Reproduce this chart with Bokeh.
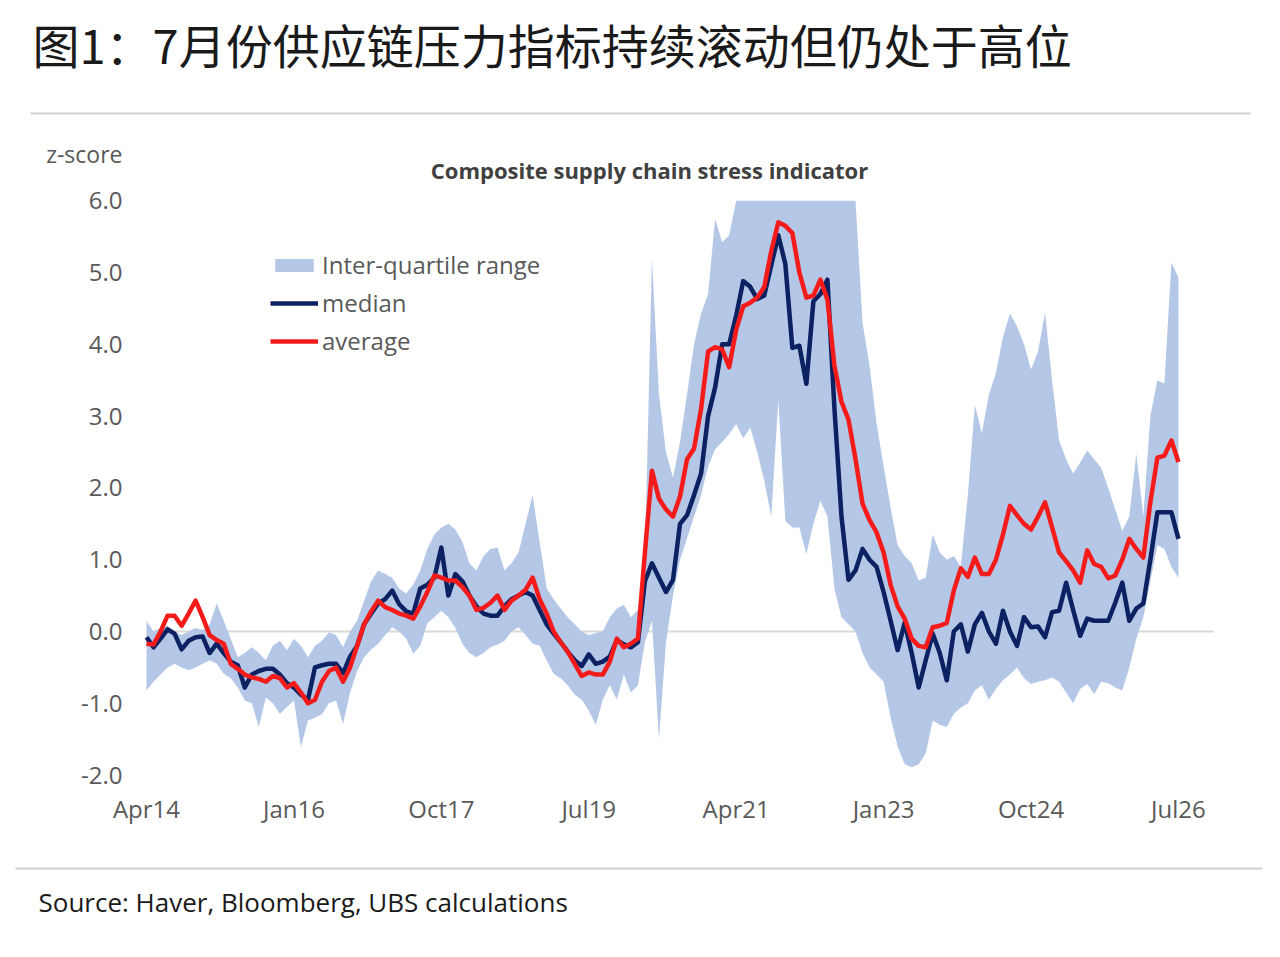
from bokeh.plotting import figure
from bokeh.layouts import column
from bokeh.models import Range1d, FixedTicker, Legend, LegendItem
from bokeh.core.properties import value
from bokeh.embed import file_html
from bokeh.resources import INLINE

# ---------------- data (monthly, Apr 2014 .. Jul 2026) ----------------
median = [
    -0.08, -0.22, -0.10, 0.03, -0.03, -0.25, -0.13, -0.08, -0.07, -0.30,
    -0.17, -0.30, -0.42, -0.47, -0.78, -0.60, -0.55, -0.52, -0.52, -0.60,
    -0.72, -0.78, -0.88, -0.95, -0.50, -0.47, -0.45, -0.45, -0.58, -0.35,
    -0.20, 0.10, 0.25, 0.39, 0.45, 0.57, 0.38, 0.28, 0.25, 0.60,
    0.65, 0.75, 1.17, 0.50, 0.80, 0.70, 0.50, 0.35, 0.25, 0.22,
    0.22, 0.35, 0.45, 0.50, 0.55, 0.50, 0.30, 0.10, -0.03, -0.15,
    -0.28, -0.40, -0.48, -0.32, -0.45, -0.42, -0.35, -0.12, -0.18, -0.22,
    -0.15, 0.70, 0.95, 0.75, 0.55, 0.72, 1.50, 1.62, 1.90, 2.20,
    3.00, 3.40, 4.00, 4.00, 4.40, 4.88, 4.80, 4.63, 4.68, 5.10,
    5.52, 5.12, 3.95, 3.98, 3.45, 4.60, 4.70, 4.90, 3.10, 1.60,
    0.72, 0.85, 1.15, 1.00, 0.90, 0.55, 0.15, -0.26, 0.12, -0.30,
    -0.78, -0.40, -0.03, -0.30, -0.68, 0.00, 0.10, -0.28, 0.10, 0.26,
    0.00, -0.17, 0.29, 0.00, -0.20, 0.20, 0.06, 0.07, -0.08, 0.27,
    0.29, 0.68, 0.30, -0.06, 0.18, 0.15, 0.15, 0.15, 0.40, 0.68,
    0.15, 0.32, 0.39, 1.00, 1.66, 1.66, 1.66, 1.29,
]
average = [
    -0.17, -0.18, 0.00, 0.22, 0.22, 0.08, 0.25, 0.43, 0.20, -0.05,
    -0.12, -0.17, -0.45, -0.52, -0.60, -0.64, -0.66, -0.70, -0.62, -0.65,
    -0.78, -0.72, -0.85, -1.00, -0.95, -0.70, -0.55, -0.50, -0.70, -0.50,
    -0.20, 0.10, 0.28, 0.43, 0.34, 0.30, 0.25, 0.22, 0.18, 0.35,
    0.55, 0.78, 0.75, 0.71, 0.71, 0.62, 0.50, 0.30, 0.33, 0.40,
    0.50, 0.30, 0.43, 0.50, 0.58, 0.75, 0.45, 0.25, 0.00, -0.15,
    -0.28, -0.45, -0.62, -0.57, -0.60, -0.60, -0.42, -0.10, -0.22, -0.17,
    -0.10, 1.10, 2.24, 1.85, 1.70, 1.60, 1.88, 2.40, 2.55, 3.10,
    3.90, 3.96, 3.93, 3.68, 4.20, 4.53, 4.58, 4.65, 4.80, 5.30,
    5.70, 5.65, 5.55, 5.00, 4.65, 4.68, 4.90, 4.62, 3.70, 3.20,
    2.95, 2.40, 1.78, 1.55, 1.38, 1.10, 0.65, 0.35, 0.18, -0.10,
    -0.20, -0.22, 0.06, 0.08, 0.12, 0.57, 0.88, 0.76, 1.03, 0.80,
    0.80, 1.00, 1.35, 1.75, 1.62, 1.50, 1.42, 1.60, 1.80, 1.45,
    1.10, 0.98, 0.85, 0.68, 1.13, 0.94, 0.90, 0.74, 0.78, 1.00,
    1.29, 1.15, 1.03, 1.80, 2.42, 2.45, 2.66, 2.36,
]
iqr_high = [
    0.15, 0.00, 0.05, 0.08, 0.00, -0.05, 0.00, 0.05, 0.02, 0.10,
    0.39, 0.15, -0.10, -0.36, -0.30, -0.22, -0.30, -0.40, -0.20, -0.13,
    -0.26, -0.10, -0.20, -0.36, -0.20, -0.13, -0.01, -0.05, -0.22, 0.00,
    0.15, 0.43, 0.70, 0.85, 0.80, 0.75, 0.60, 0.53, 0.65, 0.85,
    1.15, 1.35, 1.45, 1.50, 1.42, 1.25, 0.95, 0.85, 1.05, 1.15,
    1.17, 0.85, 0.95, 1.10, 1.50, 1.90, 1.25, 0.60, 0.45, 0.32,
    0.20, 0.10, 0.00, -0.05, -0.02, 0.00, 0.20, 0.32, 0.37, 0.20,
    0.30, 1.00, 5.20, 3.30, 2.50, 2.14, 2.64, 3.30, 4.00, 4.43,
    4.70, 5.75, 5.42, 5.52, 6.00, 6.00, 6.00, 6.00, 6.00, 6.00,
    6.00, 6.00, 6.00, 6.00, 6.00, 6.00, 6.00, 6.00, 6.00, 6.00,
    6.00, 6.00, 4.30, 3.70, 2.90, 2.30, 1.73, 1.20, 1.05, 0.95,
    0.71, 0.75, 1.35, 1.10, 1.00, 1.05, 0.90, 1.90, 3.15, 2.76,
    3.30, 3.60, 4.10, 4.43, 4.25, 4.00, 3.65, 3.90, 4.44, 3.50,
    2.66, 2.40, 2.20, 2.35, 2.52, 2.40, 2.28, 2.00, 1.70, 1.40,
    1.60, 2.48, 1.60, 3.00, 3.50, 3.45, 5.14, 4.93,
]
iqr_low = [
    -0.82, -0.70, -0.60, -0.50, -0.45, -0.50, -0.54, -0.50, -0.45, -0.40,
    -0.45, -0.59, -0.65, -0.78, -0.96, -1.00, -1.33, -0.92, -1.00, -1.15,
    -1.05, -0.96, -1.61, -1.24, -1.20, -1.15, -1.00, -0.96, -1.29, -0.85,
    -0.55, -0.36, -0.25, -0.17, -0.05, 0.06, 0.00, -0.10, -0.31, -0.20,
    0.11, 0.20, 0.29, 0.20, 0.05, -0.17, -0.30, -0.36, -0.30, -0.22,
    -0.18, -0.13, 0.00, 0.06, -0.05, -0.17, -0.20, -0.40, -0.59, -0.65,
    -0.75, -0.88, -0.95, -1.10, -1.30, -0.95, -0.75, -0.95, -0.60, -0.85,
    -0.75, -0.15, 0.15, -1.50, -0.15, 0.50, 1.00, 1.30, 1.60, 1.90,
    2.30, 2.54, 2.64, 2.75, 2.89, 2.69, 2.84, 2.50, 2.10, 1.60,
    3.23, 1.54, 1.45, 1.45, 1.08, 1.50, 1.82, 1.60, 0.60, 0.20,
    0.10, 0.00, -0.30, -0.50, -0.60, -0.70, -1.20, -1.60, -1.85, -1.89,
    -1.85, -1.70, -1.24, -1.30, -1.33, -1.15, -1.06, -1.00, -0.82, -0.75,
    -0.95, -0.80, -0.68, -0.60, -0.50, -0.65, -0.73, -0.70, -0.68, -0.64,
    -0.70, -0.85, -1.00, -0.80, -0.73, -0.87, -0.70, -0.72, -0.78, -0.82,
    -0.50, -0.10, 0.20, 0.70, 1.20, 1.15, 0.90, 0.75,
]
tick_labels = ["Apr14", "Jan16", "Oct17", "Jul19", "Apr21", "Jan23", "Oct24", "Jul26"]
tick_months = [0, 21, 42, 63, 84, 105, 126, 147]
y_ticks = [-2, -1, 0, 1, 2, 3, 4, 5, 6]
y_tick_labels = ["-2.0", "-1.0", "0.0", "1.0", "2.0", "3.0", "4.0", "5.0", "6.0"]

months = list(range(len(median)))

TITLE = "图1：7月份供应链压力指标持续滚动但仍处于高位"
CHART_TITLE = "Composite supply chain stress indicator"
Y_UNIT = "z-score"
SOURCE = "Source: Haver, Bloomberg, UBS calculations"

# ---------------- layout geometry (pixels) ----------------
W = 1264
FRAME_BOTTOM = 790          # bottom of the drawing frame in the page
MAIN_H = 840                # main canvas height (frame + x-axis strip)
FOOT_H = 101
X0_PX, PX_PER_MONTH = 146, 7.02     # month 0 position / month width
ZERO_PX, PX_PER_UNIT = 631, 71.8    # y = 0 position / one z-score unit


def fx(px):
    return (px - X0_PX) / PX_PER_MONTH


def fy(py):
    return (ZERO_PX - py) / PX_PER_UNIT


FONT = value("Open Sans")

# ---------------- main chart (header drawn inside the frame) ----------------
p = figure(width=W, height=MAIN_H, output_backend="svg", toolbar_location=None,
           x_range=Range1d(fx(0), fx(W)), y_range=Range1d(fy(FRAME_BOTTOM), fy(0)),
           y_axis_location=None,
           min_border_left=0, min_border_right=0, min_border_top=0,
           min_border_bottom=MAIN_H - FRAME_BOTTOM)
p.outline_line_color = None
p.xgrid.visible = False
p.ygrid.visible = False
p.background_fill_color = "white"
p.border_fill_color = "white"

# x axis (real Bokeh axis)
ax = p.xaxis[0]
ax.ticker = FixedTicker(ticks=tick_months)
ax.major_label_overrides = {m: l for m, l in zip(tick_months, tick_labels)}
ax.axis_line_color = None
ax.major_tick_line_color = None
ax.minor_tick_line_color = None
ax.major_tick_out = 0
ax.major_tick_in = 0
ax.major_label_standoff = 1
ax.major_label_text_font = "Open Sans"
ax.major_label_text_font_size = "24px"
ax.major_label_text_color = "#595959"

# y tick labels
p.text(x=[fx(122)] * len(y_ticks), y=y_ticks, text=y_tick_labels, text_font=FONT,
       text_font_size=value("24px"), text_align="right", text_baseline="middle",
       text_color="#595959")

# zero line
p.segment(x0=[fx(146)], y0=[0], x1=[fx(1213)], y1=[0], line_color="#D9D9D9", line_width=2)

band = p.varea(x=months, y1=iqr_low, y2=iqr_high, fill_color="#B4C7E7", fill_alpha=1.0)
med = p.line(months, median, line_color="#0B2161", line_width=4.5, line_join="round")
avg = p.line(months, average, line_color="#F51B1B", line_width=4.5, line_join="round")

legend = Legend(items=[LegendItem(label="Inter-quartile range", renderers=[band]),
                       LegendItem(label="median", renderers=[med]),
                       LegendItem(label="average", renderers=[avg])],
                location=(270, 433), padding=0, margin=0, spacing=5,
                glyph_width=48, glyph_height=16, label_standoff=4, label_height=30,
                border_line_color=None, background_fill_alpha=0,
                label_text_font="Open Sans", label_text_font_size="24px",
                label_text_color="#595959")
p.add_layout(legend)

# header texts and rule
p.text(x=[fx(32)], y=[fy(43)], text=[TITLE], text_font=value("Noto Sans CJK SC"),
       text_font_size=value("47px"), text_baseline="middle", text_align="left",
       text_color="#1A1A1A")
p.segment(x0=[fx(30)], y0=[fy(113)], x1=[fx(1250)], y1=[fy(113)],
          line_color="#D0D0D0", line_width=2)
p.text(x=[fx(122)], y=[fy(153)], text=[Y_UNIT], text_font=FONT,
       text_font_size=value("23px"), text_baseline="middle", text_align="right",
       text_color="#595959")
p.text(x=[fx(649)], y=[fy(169)], text=[CHART_TITLE], text_font=FONT,
       text_font_size=value("22px"), text_font_style="bold", text_baseline="middle",
       text_align="center", text_color="#404040")

# ---------------- footer ----------------
bot = figure(width=W, height=FOOT_H, output_backend="svg", toolbar_location=None,
             x_range=Range1d(0, W), y_range=Range1d(FOOT_H, 0),
             x_axis_location=None, y_axis_location=None, min_border=0)
bot.outline_line_color = None
bot.xgrid.visible = False
bot.ygrid.visible = False
bot.background_fill_color = "white"
bot.border_fill_color = "white"
foot_top = MAIN_H
bot.segment(x0=[15], y0=[868 - foot_top], x1=[1262], y1=[868 - foot_top],
            line_color="#D0D0D0", line_width=2)
bot.text(x=[38], y=[901 - foot_top], text=[SOURCE], text_font=FONT,
         text_font_size=value("26px"), text_baseline="middle", text_align="left",
         text_color="#1A1A1A")

layout = column(p, bot, spacing=0)
open("out.html", "w").write(file_html(layout, INLINE))
